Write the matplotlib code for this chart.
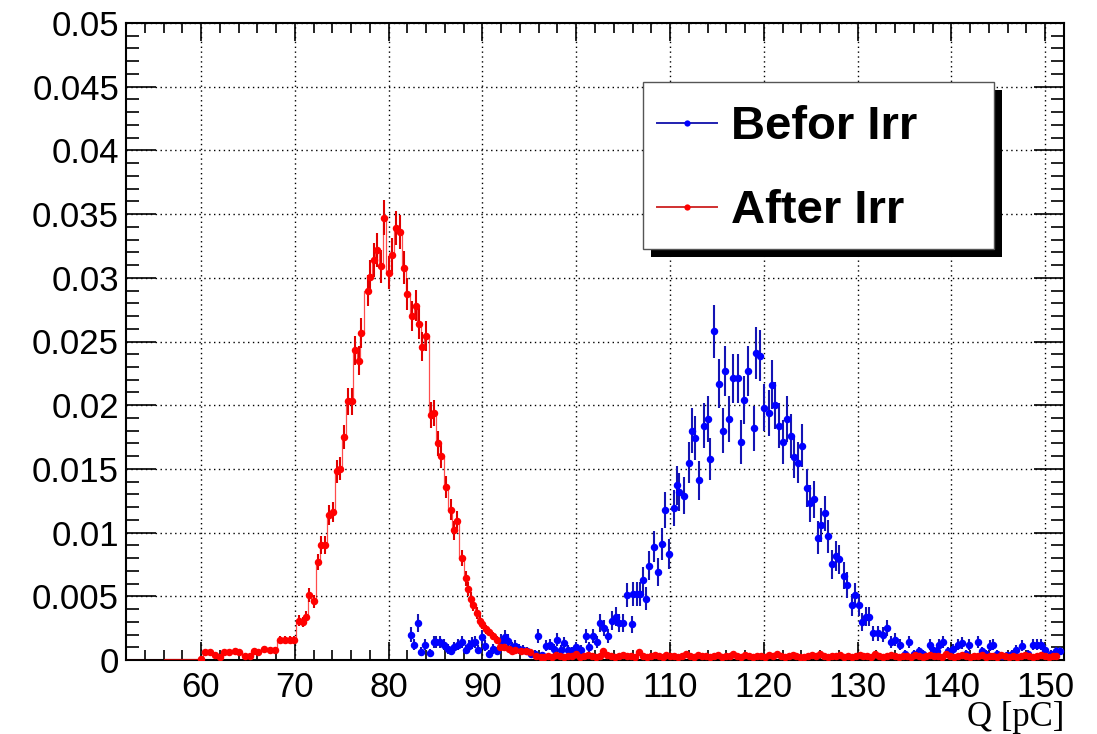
import numpy as np
import matplotlib
matplotlib.use("Agg")
import matplotlib.pyplot as plt
from matplotlib.ticker import FixedLocator, MultipleLocator, FuncFormatter
from matplotlib.patches import Rectangle
from matplotlib.lines import Line2D

# ---------------- data ----------------
x_range = (52.0, 152.0)
y_range = (0.0, 0.05)
x_ticks = [60, 70, 80, 90, 100, 110, 120, 130, 140, 150]
y_ticks = [0, 0.005, 0.01, 0.015, 0.02, 0.025, 0.03, 0.035, 0.04, 0.045, 0.05]
x_label = "Q [pC]"
labels = ["Befor Irr", "After Irr"]

# "After Irr" (red) : peak region
red_q = [60.0, 60.4, 61.0, 61.5, 62.0, 62.4, 63.0, 63.6, 64.1, 64.7, 65.2, 65.6, 66.1,
         66.7, 67.3, 67.9, 68.4, 68.9, 69.5, 69.9, 70.4, 70.9, 71.2, 71.5, 72.0, 72.5,
         72.8, 73.2, 73.6, 74.1, 74.5, 74.8, 75.2, 75.7, 76.1, 76.4, 76.8, 77.1, 77.75,
         78.0, 78.4, 78.75, 79.2, 79.5, 80.0, 80.4, 80.8, 81.2, 81.6, 82.0, 82.5, 82.9,
         83.2, 83.6, 84.0, 84.5, 84.8, 85.3, 85.6, 86.1, 86.6, 87.0, 87.3, 87.8, 88.2,
         88.5, 88.75, 89.0, 89.4, 89.7, 90.0, 90.35, 90.7, 91.1, 91.5, 91.9, 92.3, 92.8,
         93.2, 93.5, 94.1, 94.6, 95.1, 95.7, 96.2]
red_v = [0.00005, 0.0006, 0.0006, 0.0004, 0.0002, 0.0006, 0.0006, 0.0007, 0.0006, 0.0003,
         0.0003, 0.0007, 0.0006, 0.0009, 0.0008, 0.0008, 0.0016, 0.0016, 0.0016, 0.0016,
         0.0031, 0.0030, 0.0034, 0.0051, 0.0046, 0.0077, 0.0090, 0.0090, 0.0114, 0.0116,
         0.0148, 0.0150, 0.0175, 0.0203, 0.0203, 0.0243, 0.0235, 0.0257, 0.0290, 0.0301,
         0.0314, 0.0322, 0.0309, 0.0347, 0.0304, 0.0318, 0.0339, 0.0336, 0.0308, 0.0287,
         0.0270, 0.0278, 0.0264, 0.0246, 0.0254, 0.0192, 0.0194, 0.0170, 0.0160, 0.0136,
         0.0118, 0.0102, 0.0109, 0.0080, 0.0064, 0.0056, 0.0048, 0.0043, 0.0037, 0.0031,
         0.0028, 0.0024, 0.0022, 0.0019, 0.0016, 0.0010, 0.0010, 0.0009, 0.0007, 0.0008,
         0.0007, 0.0007, 0.0006, 0.0003, 0.0002]
# "After Irr" (red) : flat tail, values in units of 1e-4, bins of 0.42 from 96.6
red_tail_start, red_tail_step = 96.6, 0.42
red_tail_e4 = [2, 3, 2, 4, 3, 2, 3, 3, 5, 2, 3, 4, 3, 2, 3, 7, 4, 3, 2, 3, 4, 3, 3, 2, 6,
               3, 2, 3, 4, 3, 2, 4, 3, 3, 2, 3, 5, 3, 2, 4, 3, 3, 2, 3, 4, 2, 3, 3, 5, 3,
               2, 4, 3, 2, 3, 3, 2, 4, 3, 5, 3, 2, 3, 4, 3, 2, 2, 3, 4, 3, 5, 3, 2, 3, 3,
               4, 2, 3, 2, 3, 4, 3, 3, 2, 5, 3, 2, 3, 4, 3, 2, 3, 3, 2, 4, 3, 2, 3, 4, 3,
               3, 2, 5, 3, 2, 3, 4, 3, 2, 3, 3, 4, 2, 3, 3, 2, 4, 3, 2, 3, 2, 3, 4, 3, 2,
               3, 4, 3, 2, 3, 3]

# "Befor Irr" (blue)
blue_q = [82.4, 82.7, 83.15, 83.5, 83.9, 84.4, 84.8, 85.1, 85.5, 85.9, 86.3, 86.6, 87.0,
          87.4, 87.8, 88.2, 88.6, 88.9, 89.2, 89.5, 89.9, 90.3, 90.7, 91.1, 91.5, 91.95,
          92.4, 92.7, 93.1, 93.5, 93.9, 94.3, 94.8, 95.2, 95.6, 95.9, 96.4, 96.8, 97.2,
          97.6, 98.0, 98.35, 98.7, 99.1, 99.5, 100.0, 100.5, 101.0, 101.4, 101.8, 102.2,
          102.5, 103.0, 103.4, 103.8, 104.2, 104.6, 105.0, 105.4, 105.9, 106.1, 106.5,
          106.8, 107.1, 107.4, 107.8, 108.3, 108.7, 109.1, 109.5, 109.9, 110.4, 110.7,
          111.0, 111.5, 112.0, 112.3, 112.7, 113.1, 113.6, 114.0, 114.3, 114.7, 115.2,
          115.6, 115.9, 116.3, 116.7, 117.2, 117.6, 117.9, 118.3, 118.9, 119.2, 119.6,
          120.0, 120.5, 120.9, 121.2, 121.6, 122.0, 122.5, 122.9, 123.2, 123.6, 124.1,
          124.6, 124.9, 125.3, 125.8, 126.1, 126.5, 126.8, 127.3, 127.7, 128.0, 128.5,
          128.9, 129.4, 129.7, 130.1, 130.5, 130.9, 131.2, 131.6, 132.2, 132.7, 133.1,
          133.6, 134.0, 134.5, 135.1, 135.5, 136.0, 136.5, 137.0, 137.7, 138.0, 138.5,
          138.7, 139.1, 139.6, 140.2, 140.7, 141.1, 141.6, 141.9, 142.8, 143.3, 143.7,
          144.1, 144.4, 144.9, 145.4, 145.9, 146.5, 146.9, 147.5, 148.2, 148.7, 149.1,
          149.5, 150.0, 150.6, 151.2, 151.6]
blue_v = [0.0020, 0.0012, 0.0029, 0.00065, 0.0012, 0.00055, 0.0014, 0.0014, 0.0014, 0.0012,
          0.0009, 0.0007, 0.0010, 0.0012, 0.0014, 0.0008, 0.0011, 0.0013, 0.0014, 0.0008,
          0.0018, 0.0011, 0.0005, 0.0009, 0.0007, 0.0015, 0.0018, 0.0015, 0.0010, 0.0011,
          0.0009, 0.0008, 0.0007, 0.0005, 0.0005, 0.0019, 0.0004, 0.0011, 0.0012, 0.0009,
          0.0016, 0.0008, 0.0013, 0.0008, 0.0007, 0.0010, 0.0008, 0.0019, 0.0010, 0.0019,
          0.0014, 0.0029, 0.0025, 0.0019, 0.0031, 0.0034, 0.0029, 0.0029, 0.0051, 0.0028,
          0.0052, 0.0052, 0.0052, 0.0063, 0.0048, 0.0074, 0.0089, 0.0069, 0.0091, 0.0118,
          0.0083, 0.0119, 0.0137, 0.0132, 0.0129, 0.0155, 0.0180, 0.0174, 0.0141, 0.0184,
          0.0189, 0.0158, 0.0258, 0.0217, 0.0180, 0.0227, 0.0189, 0.0221, 0.0221, 0.0171,
          0.0204, 0.0227, 0.0182, 0.0241, 0.0239, 0.0198, 0.0194, 0.0216, 0.0200, 0.0184,
          0.0171, 0.0189, 0.0176, 0.0159, 0.0155, 0.0168, 0.0135, 0.0123, 0.0126, 0.0096,
          0.0106, 0.0115, 0.0097, 0.0075, 0.0082, 0.0079, 0.0066, 0.0059, 0.0043, 0.0051,
          0.0043, 0.0030, 0.0034, 0.0034, 0.0021, 0.0021, 0.0020, 0.0025, 0.0014, 0.0016,
          0.0012, 0.0005, 0.0014, 0.0005, 0.0007, 0.0005, 0.0012, 0.0008, 0.0007, 0.0012,
          0.0014, 0.0007, 0.0009, 0.0012, 0.0013, 0.0005, 0.0012, 0.0014, 0.0007, 0.0005,
          0.0011, 0.0012, 0.0005, 0.0003, 0.0004, 0.0005, 0.0008, 0.0011, 0.0005, 0.0012,
          0.0012, 0.0012, 0.0008, 0.0005, 0.0007, 0.0007]

# effective number of entries (normalised histograms, Poisson errors)
n_entries_blue = 5900
n_entries_red = 18500

# ---------------- derived arrays ----------------
red_tail_q = red_tail_start + red_tail_step * np.arange(len(red_tail_e4))
red_x = np.concatenate([np.array(red_q), red_tail_q])
red_y = np.concatenate([np.array(red_v), np.array(red_tail_e4) * 1e-4])
blue_x = np.array(blue_q)
blue_y = np.array(blue_v)
red_err = np.sqrt(red_y / n_entries_red)
blue_err = np.sqrt(blue_y / n_entries_blue)

BLUE = "#0000ff"
BLUE_BAR = "#1414b4"
RED = "#ff0000"

plt.rcParams["font.family"] = ["Liberation Sans", "DejaVu Sans"]

W, H = 1097, 734
fig = plt.figure(figsize=(W / 100, H / 100), dpi=100)
L, R, T, B = 126, 1064, 23, 660
ax = fig.add_axes([L / W, 1 - B / H, (R - L) / W, (B - T) / H])

# blue: markers + error bars only
ax.errorbar(blue_x, blue_y, yerr=blue_err, fmt="o", ms=5.4, color=BLUE,
            ecolor=BLUE_BAR, elinewidth=1.5, capsize=0, mew=0, zorder=3)

# red: histogram step line (zero below the first filled bin) + markers + error bars
step_x = np.concatenate([[x_range[0]], red_x])
step_y = np.concatenate([[0.0], red_y])
ax.step(step_x, step_y, where="mid", color=RED, lw=0.9, alpha=0.7, zorder=4)
ax.errorbar(red_x, red_y, yerr=red_err, fmt="o", ms=5.4, color=RED,
            ecolor="#e00000", elinewidth=1.5, capsize=0, mew=0, zorder=5)

ax.set_xlim(*x_range)
ax.set_ylim(*y_range)
ax.xaxis.set_major_locator(FixedLocator(x_ticks))
ax.xaxis.set_minor_locator(MultipleLocator(2))
ax.yaxis.set_major_locator(FixedLocator(y_ticks))
ax.yaxis.set_minor_locator(MultipleLocator(0.001))
ax.yaxis.set_major_formatter(FuncFormatter(lambda v, p: "%g" % v))
ax.xaxis.set_major_formatter(FuncFormatter(lambda v, p: "%g" % v))

ax.grid(True, which="major", color="black", linestyle=(0, (1, 2.5)), linewidth=1.0)
ax.set_axisbelow(True)

for s in ax.spines.values():
    s.set_linewidth(1.5)
    s.set_color("black")

ax.tick_params(axis="both", which="both", direction="in", top=True, right=True,
               width=1.2, colors="black", labelsize=25)
ax.tick_params(axis="y", which="major", length=21.6, pad=5)
ax.tick_params(axis="y", which="minor", length=9.5)
ax.tick_params(axis="x", which="major", length=13, pad=8)
ax.tick_params(axis="x", which="minor", length=7)

ax.set_xlabel(x_label, loc="right", fontsize=25,
              fontfamily=["Liberation Serif", "DejaVu Serif"], labelpad=-2)

# ---------------- legend (ROOT-style box with shadow) ----------------
def fx(px):
    return px / W

def fy(py):
    return 1 - py / H

lx0, ly0, lx1, ly1 = 643, 82, 994, 249
shadow = Rectangle((fx(lx0 + 8), fy(ly1 + 8)), fx(lx1 - lx0), (ly1 - ly0) / H,
                   transform=fig.transFigure, facecolor="black", edgecolor="black",
                   lw=0, zorder=10)
box = Rectangle((fx(lx0), fy(ly1)), fx(lx1 - lx0), (ly1 - ly0) / H,
                transform=fig.transFigure, facecolor="white", edgecolor="#555555",
                lw=1.0, zorder=11)
fig.add_artist(shadow)
fig.add_artist(box)

entries = [(labels[0], BLUE, "#2020b0", 123), (labels[1], RED, "#d03030", 207)]
for text, mcol, lcol, yy in entries:
    fig.add_artist(Line2D([fx(657), fx(717)], [fy(yy), fy(yy)], transform=fig.transFigure,
                          color=lcol, lw=1.4, zorder=12))
    fig.add_artist(Line2D([fx(687)], [fy(yy)], transform=fig.transFigure, marker="o",
                          ms=4.5, color=mcol, mew=0, zorder=13))
    fig.text(fx(731), fy(yy + 4), text, fontsize=34, fontweight="bold",
             va="center", ha="left", zorder=14)

fig.savefig("out.png", dpi=100)
